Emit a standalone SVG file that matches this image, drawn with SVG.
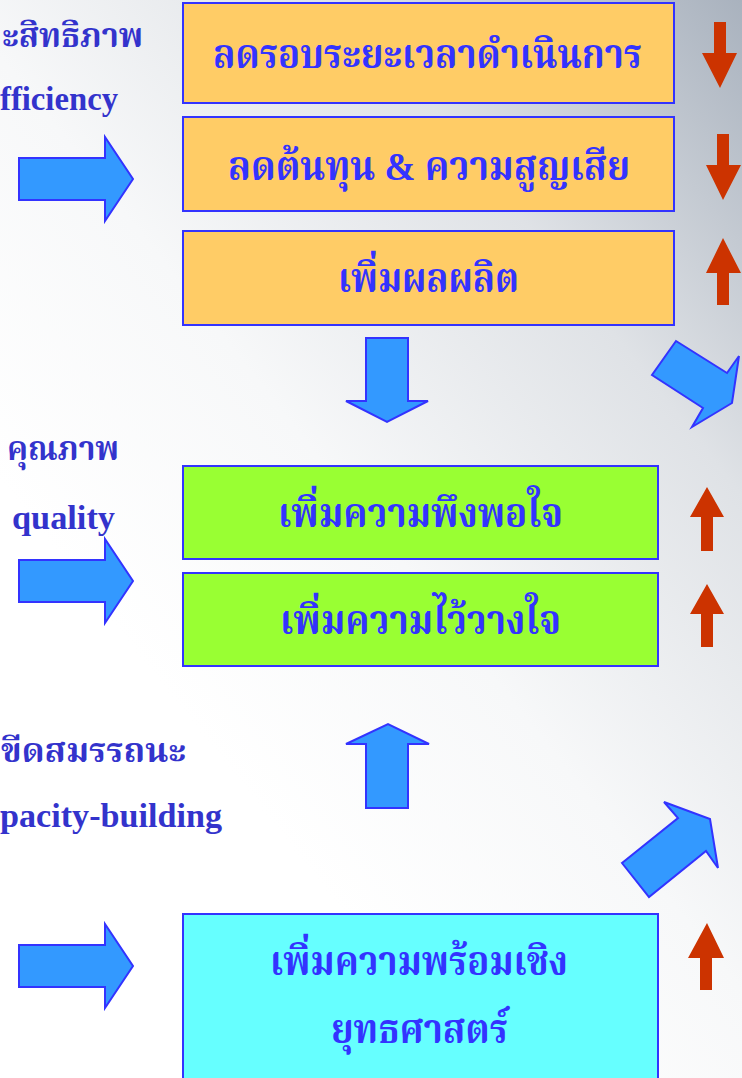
<svg xmlns="http://www.w3.org/2000/svg" width="742" height="1078" viewBox="0 0 742 1078">
<defs>
<linearGradient id="bg" x1="1" y1="0" x2="0.35" y2="0.75">
<stop offset="0" stop-color="#a9b2be"/>
<stop offset="0.35" stop-color="#dfe2e6"/>
<stop offset="0.7" stop-color="#f7f8f9"/>
<stop offset="1" stop-color="#ffffff"/>
</linearGradient>
<style>
.box{stroke:#3333ff;stroke-width:2}
.org{fill:#ffcc66}
.grn{fill:#99ff33}
.cyn{fill:#66ffff}
.blue{fill:#3399ff;stroke:#3333ff;stroke-width:2;stroke-linejoin:miter}
.red{fill:#cc3300}
.bt{font-family:"Liberation Serif","Noto Serif Thai","Noto Sans Thai",serif;font-weight:bold;fill:#3333ff}
.lt{font-family:"Liberation Serif","Noto Serif Thai","Noto Sans Thai",serif;font-weight:bold;fill:#3333cc}
</style>
</defs>
<rect width="742" height="1078" fill="url(#bg)"/>

<g id="label-efficiency">
<text class="lt" x="2" y="47" font-size="33" textLength="141" lengthAdjust="spacingAndGlyphs">ะสิทธิภาพ</text>
<text class="lt" x="0" y="110" font-size="33" textLength="118" lengthAdjust="spacingAndGlyphs">fficiency</text>
</g>
<g id="label-quality">
<text class="lt" x="7" y="460" font-size="34" textLength="112" lengthAdjust="spacingAndGlyphs">คุณภาพ</text>
<text class="lt" x="12" y="529" font-size="33" textLength="103" lengthAdjust="spacingAndGlyphs">quality</text>
</g>
<g id="label-capacity">
<text class="lt" x="1" y="762" font-size="34" textLength="185" lengthAdjust="spacingAndGlyphs">ขีดสมรรถนะ</text>
<text class="lt" x="0" y="827" font-size="34" textLength="222" lengthAdjust="spacingAndGlyphs">pacity-building</text>
</g>

<g id="box-cycle">
<rect class="box org" x="183" y="3" width="491" height="100"/>
<text class="bt" x="213" y="68" font-size="40" textLength="429" lengthAdjust="spacingAndGlyphs">ลดรอบระยะเวลาดำเนินการ</text>
</g>
<g id="box-cost">
<rect class="box org" x="183" y="117" width="491" height="94"/>
<text class="bt" x="228" y="180" font-size="40" textLength="402" lengthAdjust="spacingAndGlyphs">ลดต้นทุน &amp; ความสูญเสีย</text>
</g>
<g id="box-output">
<rect class="box org" x="183" y="231" width="491" height="94"/>
<text class="bt" x="338" y="292" font-size="40" textLength="181" lengthAdjust="spacingAndGlyphs">เพิ่มผลผลิต</text>
</g>
<g id="box-satisfaction">
<rect class="box grn" x="183" y="466" width="475" height="93"/>
<text class="bt" x="278" y="527" font-size="40" textLength="285" lengthAdjust="spacingAndGlyphs">เพิ่มความพึงพอใจ</text>
</g>
<g id="box-trust">
<rect class="box grn" x="183" y="573" width="475" height="93"/>
<text class="bt" x="280" y="634" font-size="40" textLength="281" lengthAdjust="spacingAndGlyphs">เพิ่มความไว้วางใจ</text>
</g>
<g id="box-readiness">
<rect class="box cyn" x="183" y="914" width="475" height="170"/>
<text class="bt" x="270" y="975" font-size="40" textLength="298" lengthAdjust="spacingAndGlyphs">เพิ่มความพร้อมเชิง</text>
<text class="bt" x="331" y="1043" font-size="40" textLength="177" lengthAdjust="spacingAndGlyphs">ยุทธศาสตร์</text>
</g>

<g id="connectors">
<polygon class="blue" points="19,158 105,158 105,137 133,179 105,221 105,200 19,200"/>
<polygon class="blue" points="19,560 105,560 105,539 133,581 105,623 105,602 19,602"/>
<polygon class="blue" points="19,945 105,945 105,924 133,966 105,1008 105,987 19,987"/>
<polygon class="blue" points="366,338 408,338 408,401 428,401 387,422 346,401 366,401"/>
<polygon class="blue" points="366,808 408,808 408,744 429,744 388,724 346,744 366,744"/>
<polygon class="blue" points="676,341 727,373 739,356 732,403 692,427 703,408 652,375"/>
<polygon class="blue" points="622,863 678,818 664,802 710,819 718,868 706,851 649,897"/>
<polygon class="red" points="714,22 726,22 726,53 737,53 720,88 702,53 714,53"/>
<polygon class="red" points="717,134 729,134 729,165 741,165 723,200 706,165 717,165"/>
<polygon class="red" points="717,305 729,305 729,273 741,273 723,238 706,273 717,273"/>
<polygon class="red" points="701,551 713,551 713,517 724,517 707,487 690,517 701,517"/>
<polygon class="red" points="701,647 713,647 713,614 724,614 707,584 690,614 701,614"/>
<polygon class="red" points="700,990 712,990 712,958 724,958 707,923 688,958 700,958"/>
</g>
</svg>
